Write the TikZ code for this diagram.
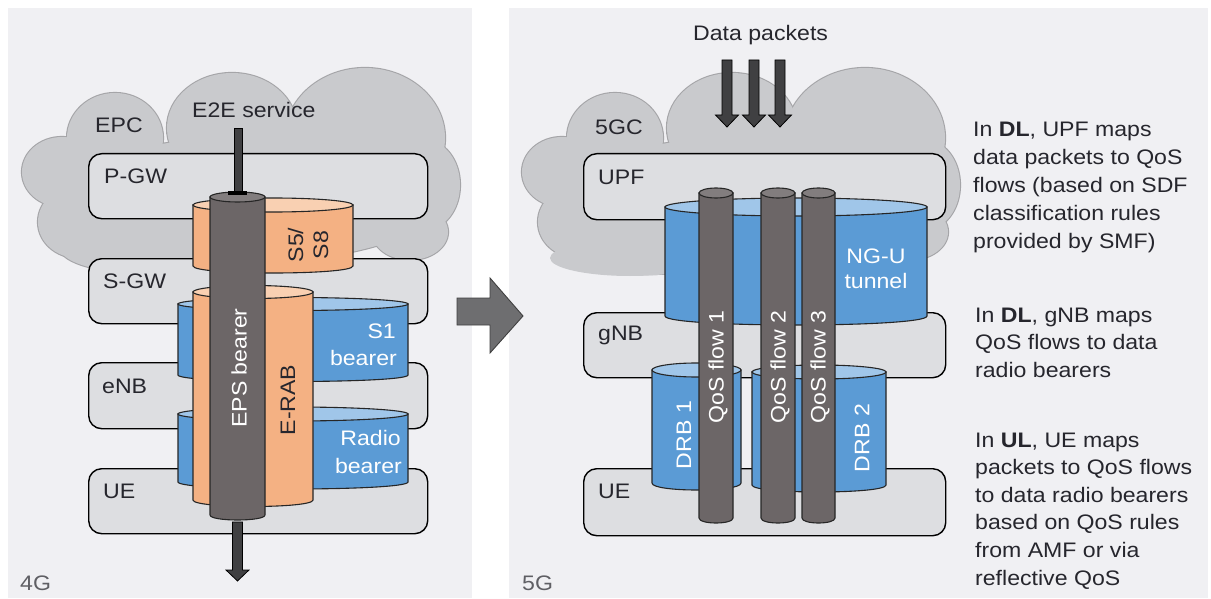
\documentclass[tikz,border=0pt]{standalone}
\usepackage{fontspec}
\setmainfont{Liberation Sans}[FakeStretch=1.1]
\definecolor{panel}{RGB}{240,240,243}
\definecolor{cloudc}{RGB}{201,202,205}
\definecolor{cloudl}{RGB}{165,165,168}
\definecolor{boxc}{RGB}{221,222,225}
\definecolor{orside}{RGB}{244,177,131}
\definecolor{ortop}{RGB}{249,208,178}
\definecolor{blside}{RGB}{91,155,213}
\definecolor{bltop}{RGB}{160,198,233}
\definecolor{dkside}{RGB}{108,102,103}
\definecolor{dktop}{RGB}{130,125,126}
\definecolor{txt}{RGB}{38,38,45}
\definecolor{gtxt}{RGB}{95,95,100}
\definecolor{darkarrow}{RGB}{64,64,66}
\definecolor{bigarrow}{RGB}{110,110,112}
\newcommand{\drawcyl}[7]{%
  \pgfmathsetmacro{\cxc}{(#1+#2)/2}%
  \pgfmathsetmacro{\crx}{(#2-#1)/2}%
  \pgfmathsetmacro{\ck}{#4+4/3*#5}%
  \filldraw[cylline, fill=#6] (#1,#3) -- (#1,#4) .. controls (#1,\ck) and (#2,\ck) .. (#2,#4) -- (#2,#3) -- cycle;
  \filldraw[cylline, fill=#7] (\cxc,#3) ellipse [x radius=\crx pt, y radius=#5 pt];
}
\newcommand{\drawcloud}[1]{%
  \begin{scope}[shift={(#1,0)}]
    \foreach \cx/\cy/\rx/\ry in {115/138/48/45, 232/128/65/55, 365/138/80/70, 425/185/35/45, 62/172/40/35, 78/222/40/36, 245/200/195/62, 410/232/38/28, 150/248/90/26}
      \draw[cloudl, line width=2.2pt] (\cx,\cy) ellipse [x radius=\rx pt, y radius=\ry pt];
    \foreach \cx/\cy/\rx/\ry in {115/138/48/45, 232/128/65/55, 365/138/80/70, 425/185/35/45, 62/172/40/35, 78/222/40/36, 245/200/195/62, 410/232/38/28, 150/248/90/26}
      \fill[cloudc] (\cx,\cy) ellipse [x radius=\rx pt, y radius=\ry pt];
  \end{scope}}
\begin{document}
\begin{tikzpicture}[x=1pt,y=-1pt, font=\fontsize{21}{28}\selectfont,
  boxst/.style={draw=black, line width=1.4pt, fill=boxc, rounded corners=13pt, inner sep=0pt, minimum width=339pt, minimum height=65pt, anchor=north west},
  cylline/.style={draw=black!85, line width=1.1pt},
  lbl/.style={text=txt, inner sep=0pt},
  wlbl/.style={text=white, inner sep=0pt},
  glbl/.style={text=gtxt, inner sep=0pt},
  arrowst/.style={fill=darkarrow, draw=black, line width=0.8pt},
  bigarrowst/.style={fill=bigarrow, draw=black!75, line width=0.9pt}]
\useasboundingbox (0,0) rectangle (1211,599);
\fill[white] (0,0) rectangle (1211,599);
\fill[panel] (8,8) rectangle (472,598);
\fill[panel] (509,8) rectangle (1208,598);

% ---------------- 4G ----------------
\drawcloud{0}
\node[boxst] (pgw) at (88,153) {};
\node[boxst] (sgw) at (88,258) {};
\node[boxst, minimum height=66pt] (enb) at (88,362) {};
\node[boxst] (ue4) at (88,468) {};
\node[lbl, anchor=base west] (epc) at (95,133) {EPC};
\node[lbl, anchor=base west] (e2e) at (192,118) {E2E service};
\node[lbl, anchor=base west] (pgwl) at (104,184) {P-GW};
\node[lbl, anchor=base west] (sgwl) at (103,288) {S-GW};
\node[lbl, anchor=base west] (enbl) at (102,393) {eNB};
\node[lbl, anchor=base west] (ue4l) at (103,498) {UE};
\node[glbl, anchor=base west] (g4) at (20,590) {4G};

\drawcyl{193}{353}{205}{266}{7}{orside}{ortop}
\drawcyl{178}{408}{304}{375}{6.5}{blside}{bltop}
\drawcyl{178}{408}{414}{482}{7}{blside}{bltop}
\drawcyl{193}{313}{292}{500}{6.5}{orside}{ortop}
\drawcyl{210}{265}{197}{515}{5}{dkside}{dktop}

\node[lbl, rotate=90, align=center, font=\fontsize{21}{25}\selectfont] (s5) at (308,245) {S5/\\S8};
\node[wlbl, anchor=base east] (s1a) at (396,338) {S1};
\node[wlbl, anchor=base east] (s1b) at (397,365) {bearer};
\node[wlbl, anchor=base east] (rba) at (401,445) {Radio};
\node[wlbl, anchor=base east] (rbb) at (402,473) {bearer};
\node[lbl, rotate=90] (erab) at (288,400) {E-RAB};
\node[wlbl, rotate=90] (eps) at (239,368) {EPS bearer};

% E2E service line
\filldraw[fill=darkarrow, draw=black, line width=0.8pt] (234.5,128) rectangle (242.5,193);
\fill[black] (228,191) rectangle (247,195);
% bottom arrow
\filldraw[arrowst] (232.5,522) -- (232.5,570) -- (226,570) -- (237.5,581) -- (249,570) -- (242.5,570) -- (242.5,522) -- cycle;

% big arrow between panels
\filldraw[bigarrowst] (457,298) -- (490,298) -- (490,278) -- (523,316) -- (490,353) -- (490,325) -- (457,325) -- cycle;

% ---------------- 5G ----------------
\drawcloud{500}
\fill[cloudc] (630,258) ellipse [x radius=80pt, y radius=18pt];
\node[boxst, minimum width=362pt, minimum height=66pt] (upf) at (583,153) {};
\node[boxst, minimum width=362pt] (gnb) at (583,312) {};
\node[boxst, minimum width=362pt, minimum height=67pt] (ue5) at (583,468) {};
\node[lbl, anchor=base west] (dp) at (693,41) {Data packets};
\node[lbl, anchor=base west] (gc) at (595,135) {5GC};
\node[lbl, anchor=base west] (upfl) at (598,185) {UPF};
\node[lbl, anchor=base west] (gnbl) at (598,340) {gNB};
\node[lbl, anchor=base west] (ue5l) at (598,498) {UE};
\node[glbl, anchor=base west] (g5) at (522,590) {5G};

\foreach \ax in {727,754,780}
  \filldraw[arrowst] (\ax-5,60) -- (\ax-5,115) -- (\ax-11.5,115) -- (\ax,127) -- (\ax+11.5,115) -- (\ax+5,115) -- (\ax+5,60) -- cycle;

\drawcyl{665}{927}{207}{316}{9}{blside}{bltop}
\drawcyl{652}{741}{370}{483}{7}{blside}{bltop}
\drawcyl{752}{886}{372}{485}{7}{blside}{bltop}
\drawcyl{699}{733}{193}{518}{5}{dkside}{dktop}
\drawcyl{761}{795}{193}{518}{5}{dkside}{dktop}
\drawcyl{802}{835}{193}{518}{5}{dkside}{dktop}

\node[wlbl, anchor=base] (ngu1) at (876,263) {NG-U};
\node[wlbl, anchor=base] (ngu2) at (876,288) {tunnel};
\node[wlbl, rotate=90] (q1) at (718,367) {QoS flow 1};
\node[wlbl, rotate=90] (q2) at (780,367) {QoS flow 2};
\node[wlbl, rotate=90] (q3) at (820,367) {QoS flow 3};
\node[wlbl, rotate=90] (drb1) at (684,435) {DRB 1};
\node[wlbl, rotate=90] (drb2) at (862,438) {DRB 2};

% explanatory text
\foreach \t [count=\i] in {{In \textbf{DL}, UPF maps}, {data packets to QoS}, {flows (based on SDF}, {classification rules}, {provided by SMF)}}
  \node[lbl, anchor=base west] (pa\i) at (973,{137+27.8*(\i-1)}) {\t};
\foreach \t [count=\i] in {{In \textbf{DL}, gNB maps}, {QoS flows to data}, {radio bearers}}
  \node[lbl, anchor=base west] (pb\i) at (975,{322+27.5*(\i-1)}) {\t};
\foreach \t [count=\i] in {{In \textbf{UL}, UE maps}, {packets to QoS flows}, {to data radio bearers}, {based on QoS rules}, {from AMF or via}, {reflective QoS}}
  \node[lbl, anchor=base west] (pc\i) at (975,{447+27.6*(\i-1)}) {\t};
\end{tikzpicture}
\end{document}
